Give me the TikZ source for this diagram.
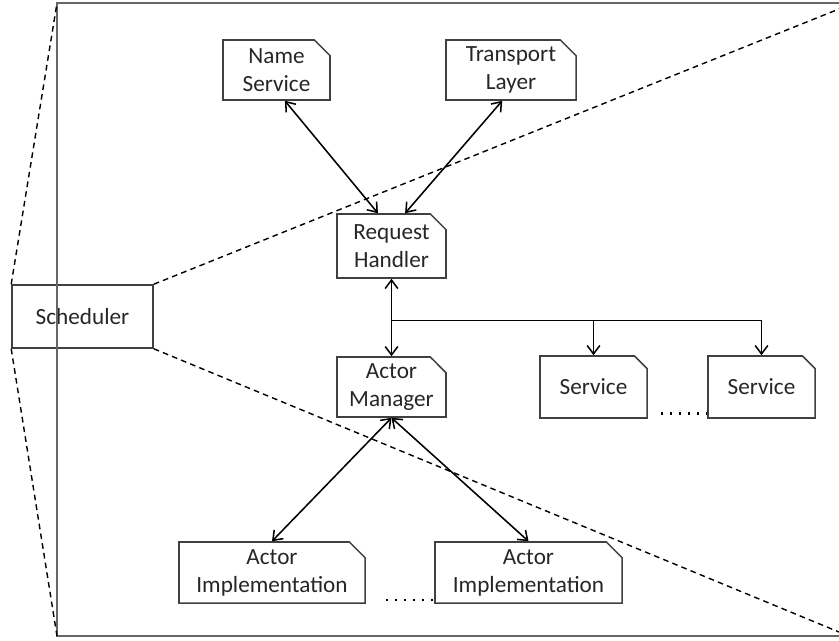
\documentclass[tikz,border=0pt]{standalone}
\usepackage{fontspec}
\setmainfont{Carlito}
\usepackage{tikz}
\usetikzlibrary{arrows.meta,shapes.misc,calc}

\begin{document}
\begin{tikzpicture}[x=0.025cm,y=-0.025cm,
            every node/.style={font=\fontsize{16.5}{20}\selectfont, text=black!85, align=center, inner sep=0pt},
            part/.style={chamfered rectangle, chamfered rectangle corners=north east, chamfered rectangle xsep=0.28cm, draw=black!75, line width=1.1pt},
            link/.style={line width=1.1pt, >={Straight Barb[length=6pt,width=9pt]}},
            zoomline/.style={line width=1pt, dash pattern=on 4pt off 3pt},
            frame/.style={line width=1.6pt, draw=black!60},
            more/.style={line width=1.6pt, dash pattern=on 1.6pt off 4.8pt}]
            \useasboundingbox (0,0) rectangle (839,640);
            \node[draw=black!75, line width=1.1pt, minimum width=3.525cm, minimum height=1.575cm] (Sched) at (82.5,316.5) {Scheduler};
            \coordinate (FrameNW) at (57,3);
            \coordinate (FrameSW) at (57,636);
            \coordinate (ZoomNE) at (839,9);
            \coordinate (ZoomSE) at (839,632);
            \draw[frame] (839,3) -- (FrameNW) -- (FrameSW) -- (839,636);
            \draw[zoomline] (Sched.north west) -- (FrameNW);
            \draw[zoomline] (Sched.south west) -- (FrameSW);
            \draw[zoomline] (Sched.north east) -- (ZoomNE);
            \draw[zoomline] (Sched.south east) -- (ZoomSE);
            \node[part, minimum width=2.675cm, minimum height=1.5cm] (NameSvc) at (276.5,70) {Name\\Service};
            \node[part, minimum width=3.25cm, minimum height=1.5cm] (Transport) at (511,70) {Transport\\Layer};
            \node[part, minimum width=2.725cm, minimum height=1.6cm] (ReqHandler) at (391.5,246) {Request\\Handler};
            \node[part, minimum width=2.725cm, minimum height=1.5cm] (ActorMgr) at (391.5,387) {Actor\\Manager};
            \node[part, minimum width=2.675cm, minimum height=1.55cm] (Svc1) at (593.5,387) {Service};
            \node[part, minimum width=2.675cm, minimum height=1.55cm] (Svc2) at (761.5,387) {Service};
            \node[part, minimum width=4.65cm, minimum height=1.525cm] (ActorImpl1) at (272,572.5) {Actor\\Implementation};
            \node[part, minimum width=4.675cm, minimum height=1.525cm] (ActorImpl2) at (528.5,572.5) {Actor\\Implementation};
            \draw[link,<->] ([xshift=0.21cm]NameSvc.south) -- ([xshift=-0.34cm]ReqHandler.north);
            \draw[link,<->] ([xshift=-0.22cm]Transport.south) -- ([xshift=0.34cm]ReqHandler.north);
            \draw[link,<->] (ReqHandler.south) -- (ActorMgr.north);
            \coordinate (Fork) at ($(ReqHandler.south)!0.54!(ActorMgr.north)$);
            \draw[link,->] (Fork) -| (Svc1.north);
            \draw[link,->] (Fork) -| (Svc2.north);
            \draw[link,<->] (ActorMgr.south) -- (ActorImpl1.north);
            \draw[link,<->] (ActorMgr.south) -- (ActorImpl2.north);
            \draw[more] ([xshift=0.33cm,yshift=0.13cm]Svc1.south east) -- ([yshift=0.13cm]Svc2.south west);
            \draw[more] ([xshift=0.5cm,yshift=0.1cm]ActorImpl1.south east) -- ([yshift=0.1cm]ActorImpl2.south west);
        \end{tikzpicture}
\end{document}
